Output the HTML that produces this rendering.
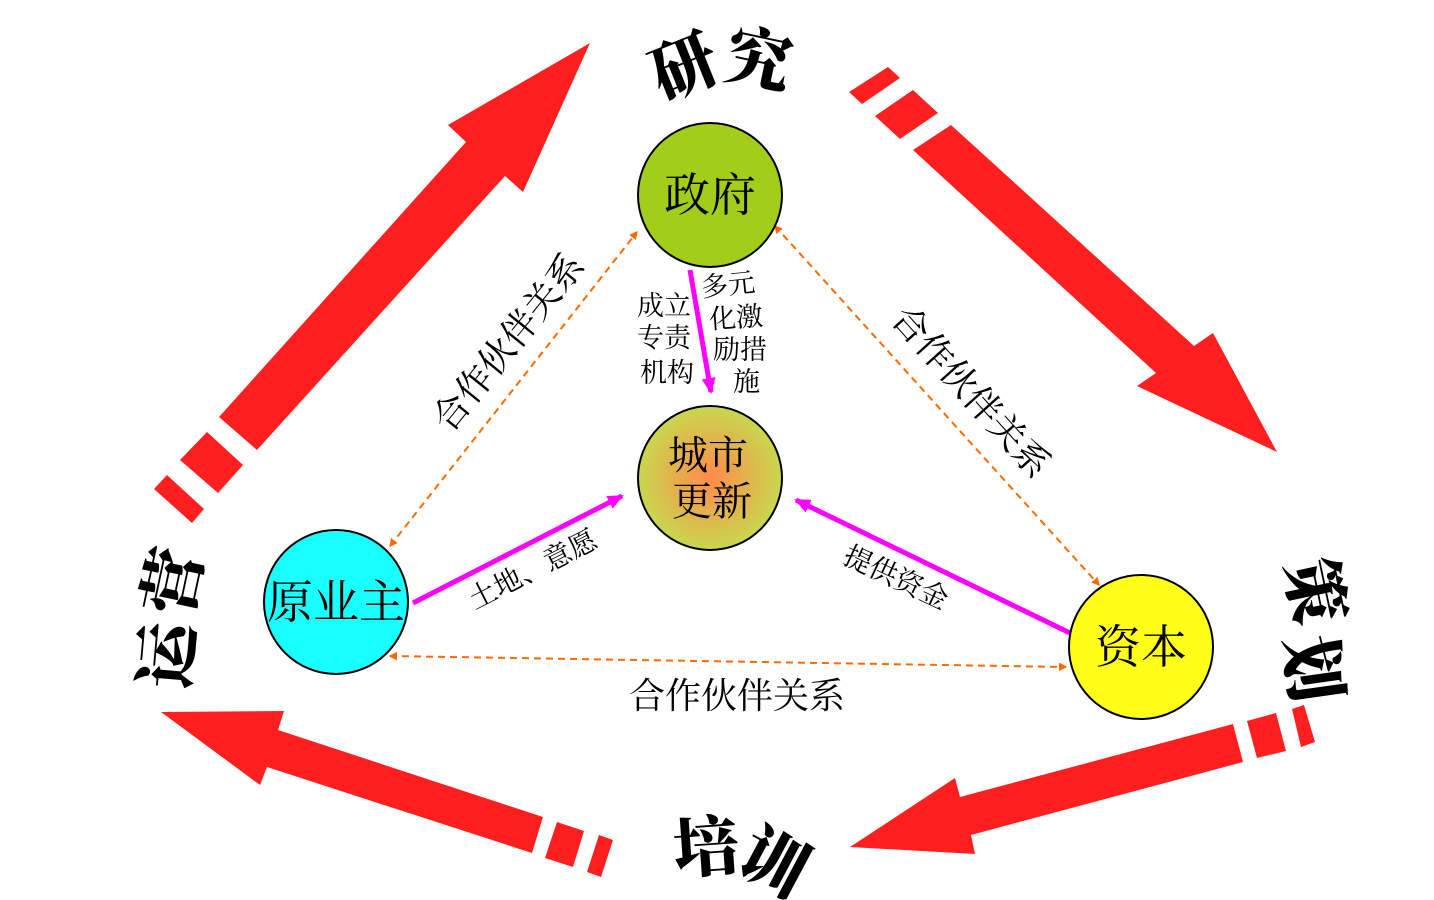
<!DOCTYPE html>
<html><head><meta charset="utf-8"><style>
html,body{margin:0;padding:0;background:#fff;}
svg{display:block;}
text{font-family:"Liberation Serif","Noto Serif CJK SC","Noto Sans CJK SC",serif;}
.b{font-family:"Noto Serif CJK SC","Noto Sans CJK SC",serif;font-weight:900;font-size:66px;fill:#000;}
</style></head><body>
<svg width="1434" height="900" viewBox="0 0 1434 900" xmlns="http://www.w3.org/2000/svg">
<defs>
<radialGradient id="g" cx="50%" cy="50%" r="50%">
<stop offset="0" stop-color="#ff8a4a"/><stop offset="1" stop-color="#c8d84e"/>
</radialGradient>
<marker id="oa" markerWidth="8" markerHeight="8" refX="7" refY="4" orient="auto-start-reverse" markerUnits="userSpaceOnUse">
<path d="M0,0 L8,4 L0,8 z" fill="#ff6a00" transform="scale(1.4) translate(-2,-1.2)"/>
</marker>
<marker id="ma" markerWidth="20" markerHeight="20" refX="14" refY="7" orient="auto" markerUnits="userSpaceOnUse">
<path d="M0,0 L16,7 L0,14 z" fill="#ff00ff"/>
</marker>
</defs>
<g fill="#ff1f1f">
<polygon points="219,417 466,142 448,125 590,43 523,192 505,176 257,450"/>
<polygon points="180,460 207,432 243,465 218,493"/>
<polygon points="154,489 167,475 204,509 192,523"/>
<polygon points="913,150 951,125 1194,346 1213,333 1277,452 1137,386 1156,373"/>
<polygon points="875,116 913,90 938,113 900,139"/>
<polygon points="849,92 888,67 900,78 862,104"/>
<polygon points="1233,724 1243,762 971,835 975,854 850,847 955,778 960,797"/>
<polygon points="1247,721 1276,713 1286,751 1257,758"/>
<polygon points="1292,709 1304,705 1315,742 1301,747"/>
<polygon points="543,817 532,853 267,767 260,785 161,712 284,711 278,730"/>
<polygon points="557,822 584,831 573,867 545,858"/>
<polygon points="599,835 613,840 601,877 587,872"/>
</g>
<text class="b" transform="translate(682,62) rotate(-22)" text-anchor="middle" dominant-baseline="central">研</text>
<text class="b" transform="translate(760,55) rotate(12)" text-anchor="middle" dominant-baseline="central">究</text>
<text class="b" transform="translate(706,842) rotate(-4)" text-anchor="middle" dominant-baseline="central">培</text>
<text class="b" transform="translate(776,858) rotate(28)" text-anchor="middle" dominant-baseline="central">训</text>
<text class="b" transform="translate(1320,590) rotate(78)" text-anchor="middle" dominant-baseline="central">策</text>
<text class="b" transform="translate(1318,668) rotate(82)" text-anchor="middle" dominant-baseline="central">划</text>
<text class="b" transform="translate(168,580) rotate(-78)" text-anchor="middle" dominant-baseline="central">营</text>
<text class="b" transform="translate(162,655) rotate(-85)" text-anchor="middle" dominant-baseline="central">运</text>
<g stroke="#ff6a00" stroke-width="2" stroke-dasharray="7,5" fill="none">
<line x1="390" y1="546" x2="637" y2="232" marker-start="url(#oa)" marker-end="url(#oa)"/>
<line x1="775" y1="226" x2="1099" y2="585" marker-start="url(#oa)" marker-end="url(#oa)"/>
<line x1="390" y1="656" x2="1066" y2="667" marker-start="url(#oa)" marker-end="url(#oa)"/>
</g>
<g stroke="#ff00ff" stroke-width="5" fill="none">
<line x1="690" y1="270" x2="711" y2="392" marker-end="url(#ma)"/>
<line x1="413" y1="603" x2="622" y2="496" marker-end="url(#ma)"/>
<line x1="1072" y1="634" x2="796" y2="500" marker-end="url(#ma)"/>
</g>
<g stroke="#000" stroke-width="2">
<circle cx="710" cy="195" r="72" fill="#a2cd18"/>
<circle cx="710" cy="478" r="72" fill="url(#g)"/>
<circle cx="336" cy="602" r="72" fill="#19ffff"/>
<circle cx="1141" cy="647" r="72" fill="#ffff19"/>
</g>
<g font-size="46" fill="#000" text-anchor="middle">
<text x="710" y="211">政府</text>
<text x="708" y="469" font-size="40">城市</text>
<text x="712" y="515" font-size="40">更新</text>
<text x="336" y="618">原业主</text>
<text x="1141" y="663">资本</text>
</g>
<g font-size="27" fill="#000">
<text x="637" y="315">成立</text>
<text x="637" y="347">专责</text>
<text x="640" y="382">机构</text>
<text x="701" y="294" transform="rotate(-6 728 285)">多元</text>
<text x="709" y="327" transform="rotate(-4 735 318)">化激</text>
<text x="713" y="359">励措</text>
<text x="733" y="391">施</text>
</g>
<g font-size="36" fill="#000" text-anchor="middle">
<text transform="translate(518,350) rotate(-51)">合作伙伴关系</text>
<text transform="translate(962,400) rotate(48)">合作伙伴关系</text>
<text x="737" y="708">合作伙伴关系</text>
</g>
<g font-size="28" fill="#000" text-anchor="middle">
<text transform="translate(537,578) rotate(-27)">土地、意愿</text>
<text transform="translate(892,586) rotate(25)">提供资金</text>
</g>
</svg>
</body></html>
